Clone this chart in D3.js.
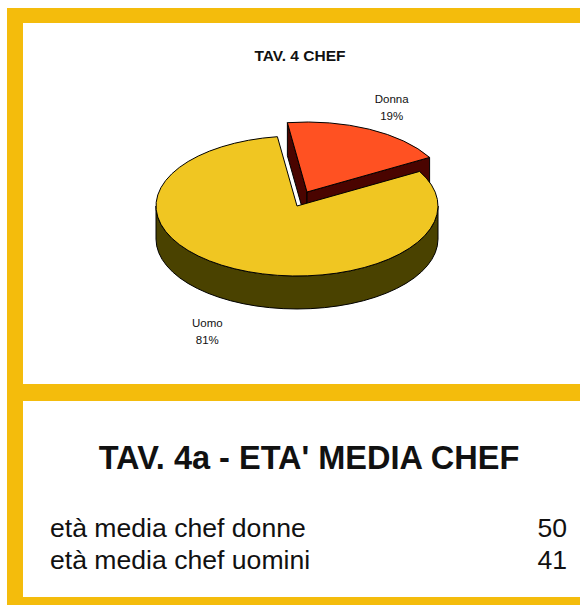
<!DOCTYPE html>
<html>
<head>
<meta charset="utf-8">
<script src="https://cdn.jsdelivr.net/npm/d3@7/dist/d3.min.js"></script>
<style>
  html, body { margin: 0; padding: 0; background: #fff; }
  svg { display: block; }
  text { font-family: "Liberation Sans", Arial, sans-serif; }
</style>
</head>
<body>
<script>
// ---- data ----
const pieTitle = "TAV. 4 CHEF";
const pieLabels = ["Donna", "Uomo"];
const pieValues = [19, 81];
const tableTitle = "TAV. 4a - ETA' MEDIA CHEF";
const ageLabels = ["età media chef donne", "età media chef uomini"];
const ageValues = [50, 41];

// ---- styles ----
const W = 580, H = 605;
const frameColor = "#F4BC0C";
const topColors = ["#FF5122", "#F0C622"];
const sideColors = ["#4A0400", "#4A4200"];

const svg = d3.select("body").append("svg").attr("width", W).attr("height", H);
svg.append("rect").attr("width", W).attr("height", H).attr("fill", "#fff");

// frame
const frame = svg.append("g").attr("fill", frameColor);
frame.append("rect").attr("x", 7).attr("y", 8).attr("width", W - 7).attr("height", 15);
frame.append("rect").attr("x", 7).attr("y", 8).attr("width", 16).attr("height", H - 8);
frame.append("rect").attr("x", 7).attr("y", 384).attr("width", W - 7).attr("height", 17);
frame.append("rect").attr("x", 7).attr("y", 597).attr("width", W - 7).attr("height", 8);

// ---- 3D pie ----
const cx = 297, cy = 206, rx = 141, ry = 70, depth = 33;
const explode = [[10, -14], [0, 0]];
const rad = d => d * Math.PI / 180;
const start = rad(-8);
const pie = d3.pie().sort(null).startAngle(start).endAngle(start + 2 * Math.PI);
const arcs = pie(pieValues);

const P = (a, ox, oy, k = 1) => [ox + rx * k * Math.sin(a), oy - ry * k * Math.cos(a)];
const f = v => v.toFixed(2);

function topPath(d, ox, oy) {
  const p0 = P(d.startAngle, ox, oy), p1 = P(d.endAngle, ox, oy);
  const large = (d.endAngle - d.startAngle) > Math.PI ? 1 : 0;
  return `M${f(ox)},${f(oy)}L${f(p0[0])},${f(p0[1])}A${rx},${ry} 0 ${large} 1 ${f(p1[0])},${f(p1[1])}Z`;
}
function wallPath(a0, a1, ox, oy) {
  const p0 = P(a0, ox, oy), p1 = P(a1, ox, oy);
  const large = (a1 - a0) > Math.PI ? 1 : 0;
  return `M${f(p0[0])},${f(p0[1])}A${rx},${ry} 0 ${large} 1 ${f(p1[0])},${f(p1[1])}` +
         `L${f(p1[0])},${f(p1[1] + depth)}A${rx},${ry} 0 ${large} 0 ${f(p0[0])},${f(p0[1] + depth)}Z`;
}
function cutPath(a, ox, oy) {
  const p = P(a, ox, oy);
  return `M${f(ox)},${f(oy)}L${f(p[0])},${f(p[1])}L${f(p[0])},${f(p[1] + depth)}L${f(ox)},${f(oy + depth)}Z`;
}

const pg = svg.append("g").attr("stroke", "#000").attr("stroke-width", 1).attr("stroke-linejoin", "round");

// draw back slice (Donna) first, then front slice (Uomo)
arcs.forEach((d, i) => {
  const ox = cx + explode[i][0], oy = cy + explode[i][1];
  const faces = [];
  if (Math.cos(d.startAngle - Math.PI / 2) < 0) faces.push(d.startAngle);
  if (Math.cos(d.endAngle + Math.PI / 2) < 0) faces.push(d.endAngle);
  faces.forEach(a => pg.append("path").attr("d", cutPath(a, ox, oy)).attr("fill", sideColors[i]));
  const lo = Math.PI / 2, hi = 3 * Math.PI / 2;
  [[d.startAngle, d.endAngle], [d.startAngle - 2 * Math.PI, d.endAngle - 2 * Math.PI]].forEach(([s, e]) => {
    const a0 = Math.max(s, lo), a1 = Math.min(e, hi);
    if (a1 > a0) pg.append("path").attr("d", wallPath(a0, a1, ox, oy)).attr("fill", sideColors[i]);
  });
  pg.append("path").attr("d", topPath(d, ox, oy)).attr("fill", topColors[i]);
});

// labels
const pct = d3.format(".0%");
const total = d3.sum(pieValues);
const labelK = [1.36, 1.44];
arcs.forEach((d, i) => {
  const mid = (d.startAngle + d.endAngle) / 2;
  const ox = cx + explode[i][0], oy = cy + explode[i][1];
  const p = P(mid, ox, oy, labelK[i]);
  const yy = p[1] + (Math.cos(mid) < 0 ? depth + 2 : 0);
  const t = svg.append("text").attr("text-anchor", "middle").attr("font-size", 11.5).attr("fill", "#111");
  t.append("tspan").attr("x", p[0]).attr("y", yy - 4).text(pieLabels[i]);
  t.append("tspan").attr("x", p[0]).attr("y", yy + 13).text(pct(pieValues[i] / total));
});

svg.append("text").attr("x", 300).attr("y", 61).attr("text-anchor", "middle")
  .attr("font-size", 15.5).attr("font-weight", "bold").attr("fill", "#111").text(pieTitle);

// ---- table ----
svg.append("text").attr("x", 309).attr("y", 469).attr("text-anchor", "middle")
  .attr("font-size", 32.5).attr("font-weight", "bold").attr("fill", "#111").text(tableTitle);

const rowY = d3.scalePoint().domain(ageLabels).range([537, 569]);
ageLabels.forEach((lab, i) => {
  svg.append("text").attr("x", 50).attr("y", rowY(lab)).attr("font-size", 26.6).attr("fill", "#111").text(lab);
  svg.append("text").attr("x", 567).attr("y", rowY(lab)).attr("text-anchor", "end")
    .attr("font-size", 26.6).attr("fill", "#111").text(ageValues[i]);
});
</script>
</body>
</html>
